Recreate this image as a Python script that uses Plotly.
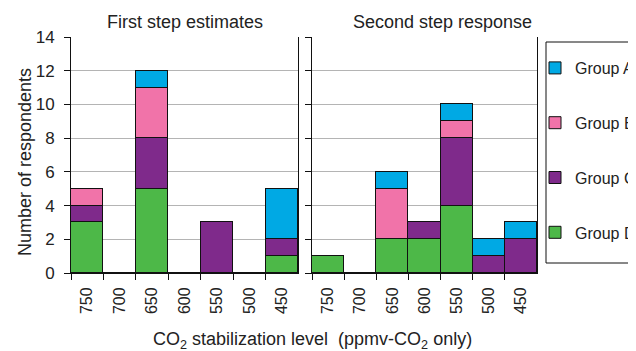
import plotly.graph_objects as go

categories = ["750", "700", "650", "600", "550", "500", "450"]
groups = ["Group D", "Group C", "Group B", "Group A"]
colors = {"Group A": "#00a9e4", "Group B": "#f173a9", "Group C": "#7f2a8b", "Group D": "#4db848"}
ranks = {"Group A": 1, "Group B": 2, "Group C": 3, "Group D": 4}

first_D = [3, 0, 5, 0, 0, 0, 1]
first_C = [1, 0, 3, 0, 3, 0, 1]
first_B = [1, 0, 3, 0, 0, 0, 0]
first_A = [0, 0, 1, 0, 0, 0, 3]

second_D = [1, 0, 2, 2, 4, 0, 0]
second_C = [0, 0, 0, 1, 4, 1, 2]
second_B = [0, 0, 3, 0, 1, 0, 0]
second_A = [0, 0, 1, 0, 1, 1, 1]

y_ticks = [0, 2, 4, 6, 8, 10, 12, 14]

first = {"Group D": first_D, "Group C": first_C, "Group B": first_B, "Group A": first_A}
second = {"Group D": second_D, "Group C": second_C, "Group B": second_B, "Group A": second_A}

FONT = "Liberation Sans, Arial, sans-serif"
TXT = "#222222"

fig = go.Figure()
for g in groups:
    fig.add_trace(go.Bar(x=categories, y=first[g], name=g, legendgroup=g, legendrank=ranks[g],
                         marker=dict(color=colors[g], line=dict(color="#111111", width=1)),
                         xaxis="x", yaxis="y", showlegend=True))
for g in groups:
    fig.add_trace(go.Bar(x=categories, y=second[g], name=g, legendgroup=g, legendrank=ranks[g],
                         marker=dict(color=colors[g], line=dict(color="#111111", width=1)),
                         xaxis="x2", yaxis="y2", showlegend=False))

# page has an 8px body margin; figure is sized to the remaining window
OFF = 8
W, H = 636 - OFF, 351 - OFF
def px(v): return (v - OFF) / W
def py(v): return 1 - (v - OFF) / H

xcommon = dict(type="category", categoryorder="array", categoryarray=categories,
               tickson="boundaries", ticks="outside", ticklen=6, tickcolor="#111111",
               tickangle=-90, showline=True, linecolor="#111111", linewidth=1,
               ticklabelstandoff=7,
               showgrid=False, tickfont=dict(size=16, color=TXT, family=FONT))
ycommon = dict(range=[0, 14], tickvals=y_ticks, ticks="outside", ticklen=6, tickcolor="#111111",
               showline=True, linecolor="#111111", linewidth=1, mirror=True,
               showgrid=True, gridcolor="#b4b4b4", gridwidth=1, zeroline=False,
               tickfont=dict(size=17, color=TXT, family=FONT))

fig.update_layout(
    width=W, height=H,
    margin=dict(l=0, r=0, t=0, b=0, autoexpand=False),
    paper_bgcolor="white", plot_bgcolor="white",
    barmode="stack", bargap=0,
    font=dict(family=FONT, color=TXT),
    xaxis=dict(domain=[px(71), px(298)], anchor="y", **xcommon),
    xaxis2=dict(domain=[px(312), px(537)], anchor="y2", **xcommon),
    yaxis=dict(domain=[py(273), py(37)], anchor="x", ticklabelstandoff=6, **ycommon),
    yaxis2=dict(domain=[py(273), py(37)], anchor="x2", showticklabels=False, **ycommon),
    legend=dict(x=px(535), y=py(51), xanchor="left", yanchor="top",
                borderwidth=0, bgcolor="rgba(0,0,0,0)",
                traceorder="grouped", tracegroupgap=31,
                font=dict(size=16, color=TXT, family=FONT), itemwidth=30),
    shapes=[dict(type="rect", xref="paper", yref="paper",
                 x0=px(546), x1=px(700), y0=py(263), y1=py(42),
                 line=dict(color="#111111", width=1), fillcolor="white", layer="below")],
    annotations=[
        dict(text="First step estimates", x=px(185), y=py(22), xref="paper", yref="paper",
             xanchor="center", yanchor="middle",
             showarrow=False, font=dict(size=18, color=TXT, family=FONT)),
        dict(text="Second step response", x=px(442), y=py(22), xref="paper", yref="paper",
             xanchor="center", yanchor="middle",
             showarrow=False, font=dict(size=18, color=TXT, family=FONT)),
        dict(text="Number of respondents", x=px(25), y=py(162), xref="paper", yref="paper",
             xanchor="center", yanchor="middle",
             textangle=-90, showarrow=False, font=dict(size=18, color=TXT, family=FONT)),
        dict(text="CO<sub>2</sub> stabilization level  (ppmv-CO<sub>2</sub> only)",
             x=px(312), y=py(340), xref="paper", yref="paper",
             xanchor="center", yanchor="middle",
             showarrow=False, font=dict(size=18, color=TXT, family=FONT)),
    ],
)

fig.write_html("out.html")
